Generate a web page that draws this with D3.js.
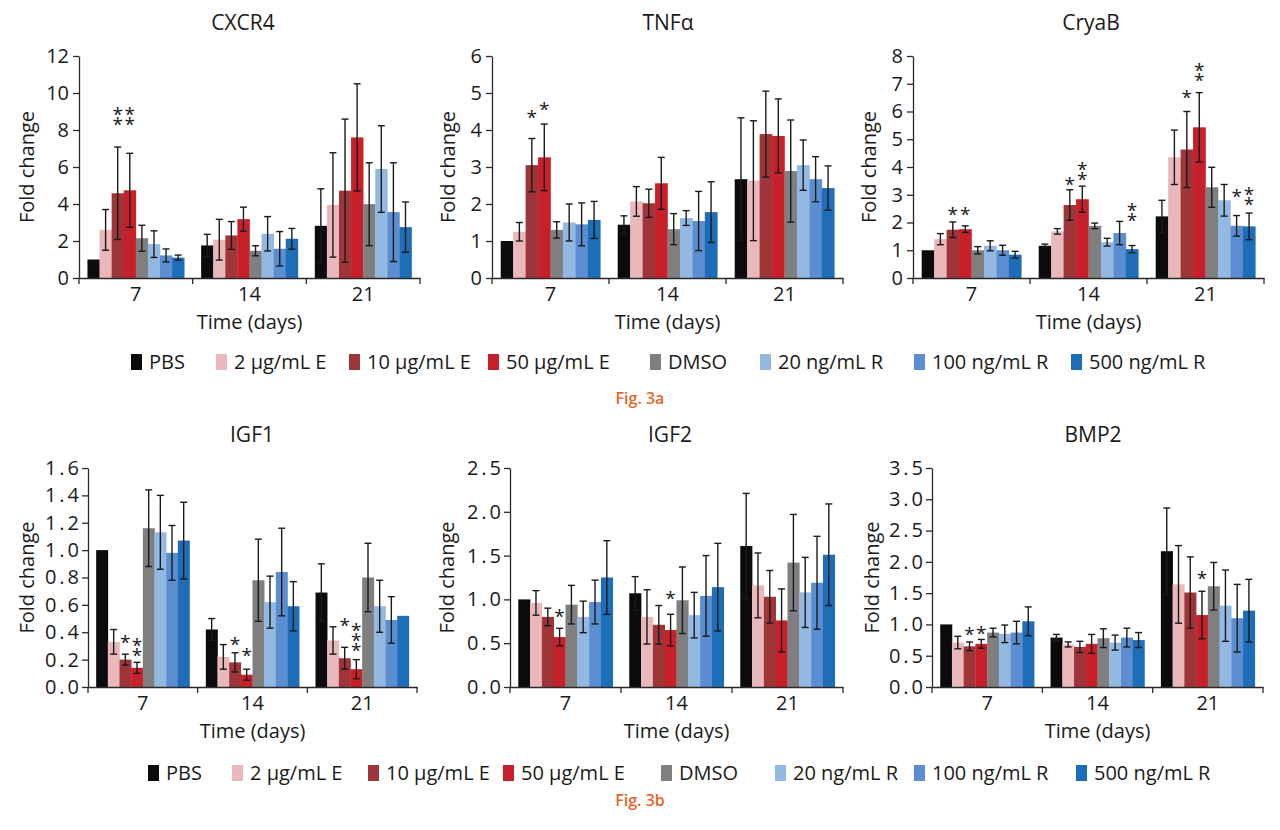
<!DOCTYPE html>
<html><head><meta charset="utf-8">
<script src="https://cdn.jsdelivr.net/npm/d3@7/dist/d3.min.js"></script>
<style>
body{margin:0;background:#fff;}
svg text{font-family:"Open Sans","Noto Sans",sans-serif;fill:#1a1a1a;}
</style></head><body>
<svg id="chart" width="1280" height="830"></svg>
<script>
// ---------------- DATA ----------------
const days = ["7", "14", "21"];
const series = ["PBS", "2 µg/mL E", "10 µg/mL E", "50 µg/mL E", "DMSO", "20 ng/mL R", "100 ng/mL R", "500 ng/mL R"];
const seriesColors = ["#0b0b0d", "#e8b8bb", "#9e3539", "#c8202a", "#7f7f7f", "#93b9e3", "#5b8ed0", "#1d6db8"];

// rows = days (7, 14, 21), columns = series
const cxcr4Mean = [[1.0, 2.6, 4.58, 4.74, 2.15, 1.83, 1.22, 1.1],
                   [1.76, 2.07, 2.3, 3.18, 1.47, 2.39, 1.58, 2.12],
                   [2.82, 3.95, 4.72, 7.6, 3.99, 5.89, 3.56, 2.75]];
const cxcr4Err  = [[0, 1.1, 2.5, 2.0, 0.7, 0.72, 0.35, 0.14],
                   [0.6, 1.1, 0.75, 0.65, 0.27, 0.93, 0.93, 0.56],
                   [2.0, 2.82, 3.87, 2.9, 2.24, 2.34, 2.67, 1.36]];
const tnfMean   = [[1.0, 1.25, 3.05, 3.26, 1.3, 1.5, 1.45, 1.57],
                   [1.44, 2.07, 2.02, 2.56, 1.32, 1.62, 1.54, 1.78],
                   [2.67, 2.63, 3.89, 3.84, 2.89, 3.05, 2.67, 2.43]];
const tnfErr    = [[0, 0.25, 0.72, 0.9, 0.22, 0.5, 0.58, 0.5],
                   [0.24, 0.4, 0.38, 0.7, 0.42, 0.2, 0.8, 0.82],
                   [1.66, 1.62, 1.16, 1.0, 1.38, 0.68, 0.61, 0.6]];
const cryabMean = [[1.0, 1.4, 1.74, 1.76, 1.0, 1.16, 1.0, 0.84],
                   [1.16, 1.68, 2.63, 2.84, 1.88, 1.29, 1.62, 1.04],
                   [2.22, 4.35, 4.63, 5.43, 3.27, 2.8, 1.88, 1.86]];
const cryabErr  = [[0, 0.2, 0.28, 0.12, 0.13, 0.18, 0.18, 0.12],
                   [0.06, 0.1, 0.55, 0.47, 0.1, 0.14, 0.42, 0.13],
                   [0.58, 0.98, 1.37, 1.25, 0.72, 0.57, 0.37, 0.48]];
const igf1Mean  = [[1.0, 0.33, 0.2, 0.14, 1.16, 1.13, 0.98, 1.07],
                   [0.42, 0.22, 0.18, 0.09, 0.78, 0.62, 0.84, 0.59],
                   [0.69, 0.34, 0.21, 0.13, 0.8, 0.59, 0.49, 0.52]];
const igf1Err   = [[0, 0.09, 0.04, 0.04, 0.28, 0.27, 0.2, 0.28],
                   [0.08, 0.09, 0.07, 0.04, 0.3, 0.19, 0.32, 0.18],
                   [0.21, 0.1, 0.08, 0.07, 0.25, 0.19, 0.17, 0]];
const igf2Mean  = [[1.0, 0.96, 0.8, 0.57, 0.94, 0.8, 0.97, 1.25],
                   [1.07, 0.8, 0.71, 0.65, 0.99, 0.82, 1.04, 1.14],
                   [1.61, 1.16, 1.03, 0.76, 1.42, 1.08, 1.19, 1.51]];
const igf2Err   = [[0, 0.14, 0.1, 0.1, 0.22, 0.18, 0.25, 0.42],
                   [0.19, 0.31, 0.22, 0.18, 0.38, 0.26, 0.46, 0.5],
                   [0.6, 0.37, 0.3, 0.36, 0.55, 0.4, 0.53, 0.58]];
const bmp2Mean  = [[1.0, 0.71, 0.65, 0.69, 0.87, 0.85, 0.87, 1.05],
                   [0.79, 0.68, 0.64, 0.69, 0.78, 0.71, 0.79, 0.75],
                   [2.17, 1.64, 1.51, 1.15, 1.61, 1.3, 1.1, 1.22]];
const bmp2Err   = [[0, 0.1, 0.07, 0.07, 0.07, 0.14, 0.18, 0.23],
                   [0.05, 0.04, 0.09, 0.15, 0.15, 0.12, 0.15, 0.12],
                   [0.69, 0.62, 0.57, 0.38, 0.38, 0.57, 0.54, 0.5]];

// significance marks: day, series index, number of asterisks, level (data units) of lowest asterisk
const cxcr4Stars = [{day: "7", s: 2, n: 2, level: 8.43}, {day: "7", s: 3, n: 2, level: 8.43}];
const tnfStars   = [{day: "7", s: 2, n: 1, level: 4.41}, {day: "7", s: 3, n: 1, level: 4.62}];
const cryabStars = [{day: "7", s: 2, n: 1, level: 2.38}, {day: "7", s: 3, n: 1, level: 2.38},
                    {day: "14", s: 2, n: 1, level: 3.46}, {day: "14", s: 3, n: 2, level: 3.64},
                    {day: "14", s: 7, n: 2, level: 2.16},
                    {day: "21", s: 2, n: 1, level: 6.59}, {day: "21", s: 3, n: 2, level: 7.21},
                    {day: "21", s: 6, n: 1, level: 3.03}, {day: "21", s: 7, n: 2, level: 2.74}];
const igf1Stars  = [{day: "7", s: 2, n: 1, level: 0.343}, {day: "7", s: 3, n: 2, level: 0.248},
                    {day: "14", s: 2, n: 1, level: 0.329}, {day: "14", s: 3, n: 1, level: 0.248},
                    {day: "21", s: 2, n: 1, level: 0.467}, {day: "21", s: 3, n: 3, level: 0.285}];
const igf2Stars  = [{day: "7", s: 3, n: 1, level: 0.833}, {day: "14", s: 3, n: 1, level: 1.04}];
const bmp2Stars  = [{day: "7", s: 2, n: 1, level: 0.88}, {day: "7", s: 3, n: 1, level: 0.895},
                    {day: "21", s: 3, n: 1, level: 1.77}];

const cxcr4Ticks = [0, 2, 4, 6, 8, 10, 12];
const tnfTicks   = [0, 1, 2, 3, 4, 5, 6];
const cryabTicks = [0, 1, 2, 3, 4, 5, 6, 7, 8];
const igf1Ticks  = [0, 0.2, 0.4, 0.6, 0.8, 1.0, 1.2, 1.4, 1.6];
const igf2Ticks  = [0, 0.5, 1.0, 1.5, 2.0, 2.5];
const bmp2Ticks  = [0, 0.5, 1.0, 1.5, 2.0, 2.5, 3.0, 3.5];

const yLabel = "Fold change";
const xLabel = "Time (days)";
const figLabels = ["Fig. 3a", "Fig. 3b"];

// ---------------- LAYOUT ----------------
const svg = d3.select("#chart");
const upper = {top: 56, bottom: 278};
const lower = {top: 468, bottom: 687};

const panels = [
  {title: "CXCR4", mean: cxcr4Mean, err: cxcr4Err, stars: cxcr4Stars, ticks: cxcr4Ticks, fmt: d3.format("d"),
   x0: 79, x1: 420, v: upper, ylx: 26, tx: 243, dec: false},
  {title: "TNFα", mean: tnfMean, err: tnfErr, stars: tnfStars, ticks: tnfTicks, fmt: d3.format("d"),
   x0: 492, x1: 843, v: upper, ylx: 447, tx: 668, dec: false},
  {title: "CryaB", mean: cryabMean, err: cryabErr, stars: cryabStars, ticks: cryabTicks, fmt: d3.format("d"),
   x0: 913, x1: 1264, v: upper, ylx: 868, tx: 1091, dec: false},
  {title: "IGF1", mean: igf1Mean, err: igf1Err, stars: igf1Stars, ticks: igf1Ticks, fmt: d3.format(".1f"),
   x0: 88, x1: 417, v: lower, ylx: 26, tx: 252, dec: true},
  {title: "IGF2", mean: igf2Mean, err: igf2Err, stars: igf2Stars, ticks: igf2Ticks, fmt: d3.format(".1f"),
   x0: 510, x1: 843, v: lower, ylx: 446, tx: 670, dec: true},
  {title: "BMP2", mean: bmp2Mean, err: bmp2Err, stars: bmp2Stars, ticks: bmp2Ticks, fmt: d3.format(".1f"),
   x0: 932, x1: 1263, v: lower, ylx: 871, tx: 1093, dec: true}
];

const axisColor = "#2a2a2a";

panels.forEach(p => {
  const g = svg.append("g");
  const xg = d3.scaleBand().domain(days).range([p.x0, p.x1]).padding(0);
  const xs = d3.scaleBand().domain(d3.range(series.length)).range([0, xg.bandwidth()])
               .paddingInner(0).paddingOuter(0.7);
  const y = d3.scaleLinear().domain([0, d3.max(p.ticks)]).range([p.v.bottom, p.v.top]);

  // bars
  days.forEach((d, di) => {
    const gg = g.append("g").attr("transform", `translate(${xg(d)},0)`);
    gg.selectAll("rect").data(p.mean[di]).join("rect")
      .attr("x", (v, i) => xs(i))
      .attr("width", xs.bandwidth() + 0.3)
      .attr("y", v => y(v))
      .attr("height", v => y(0) - y(v))
      .attr("fill", (v, i) => seriesColors[i]);
    // error bars
    const eb = gg.selectAll("g.eb").data(p.mean[di].map((v, i) => ({v, e: p.err[di][i], i})).filter(o => o.e > 0))
      .join("g").attr("class", "eb").attr("stroke", "#1a1a1a").attr("stroke-width", 1.4);
    const cxOf = o => xs(o.i) + xs.bandwidth() / 2;
    eb.append("line")
      .attr("x1", cxOf).attr("x2", cxOf)
      .attr("y1", o => y(Math.max(0, o.v - o.e))).attr("y2", o => y(o.v + o.e));
    eb.append("line")
      .attr("x1", o => cxOf(o) - 3.5).attr("x2", o => cxOf(o) + 3.5)
      .attr("y1", o => y(o.v + o.e)).attr("y2", o => y(o.v + o.e));
    eb.filter(o => o.v - o.e > 0).append("line")
      .attr("x1", o => cxOf(o) - 3.5).attr("x2", o => cxOf(o) + 3.5)
      .attr("y1", o => y(o.v - o.e)).attr("y2", o => y(o.v - o.e));

    // significance asterisks for this day: one text element per day group
    const dayStars = p.stars.filter(st => st.day === d);
    if (dayStars.length) {
      const t = g.append("text").attr("text-anchor", "middle").style("font-size", "19px");
      dayStars.forEach(st => {
        const cx = xg(d) + xs(st.s) + xs.bandwidth() / 2;
        for (let k = 0; k < st.n; k++) {
          t.append("tspan").attr("x", cx).attr("y", y(st.level) - k * 10 + 9).text("*");
        }
      });
    }
  });

  // y axis
  const ya = g.append("g").attr("transform", `translate(${p.x0},0)`)
    .call(d3.axisLeft(y).tickValues(p.ticks).tickFormat(p.fmt).tickSize(6).tickSizeOuter(0)
      .tickPadding(p.dec ? 0 : 4));
  ya.selectAll("path,line").attr("stroke", axisColor).attr("stroke-width", 1.3);
  ya.selectAll("text").style("font-size", "20px").attr("fill", "#1a1a1a")
    .style("letter-spacing", p.dec ? "3px" : "0px");

  // x axis
  const xa = g.append("g").attr("transform", `translate(0,${p.v.bottom})`)
    .call(d3.axisBottom(xg).tickSize(0).tickPadding(9));
  xa.select("path").attr("stroke", axisColor).attr("stroke-width", 1.3);
  xa.selectAll("text").style("font-size", "20px").attr("fill", "#1a1a1a");
  const bounds = days.map(d => xg(d)).concat([xg(days[days.length - 1]) + xg.bandwidth()]);
  xa.selectAll("line.sep").data(bounds).join("line").attr("class", "sep")
    .attr("x1", b => b).attr("x2", b => b).attr("y1", 0).attr("y2", 6)
    .attr("stroke", axisColor).attr("stroke-width", 1.3);

  // labels
  g.append("text").attr("x", p.tx).attr("y", p.v.top - 26)
    .attr("text-anchor", "middle").style("font-size", "21px").text(p.title);
  g.append("text").attr("x", (p.x0 + p.x1) / 2).attr("y", p.v.bottom + 51)
    .attr("text-anchor", "middle").style("font-size", "20px").text(xLabel);
  g.append("text").attr("transform", `translate(${p.ylx},${(p.v.top + p.v.bottom) / 2}) rotate(-90)`)
    .attr("text-anchor", "middle").attr("dominant-baseline", "central").style("font-size", "20px").text(yLabel);
});

// legends
const legendRows = [
  {y: 369, xs: [131, 216, 349, 488, 650, 760, 914, 1071]},
  {y: 780, xs: [148, 232, 368, 503, 661, 775, 914, 1076]}
];
legendRows.forEach(row => {
  const lg = svg.append("g");
  series.forEach((s, i) => {
    lg.append("rect").attr("x", row.xs[i]).attr("y", row.y - 15).attr("width", 11).attr("height", 16)
      .attr("fill", seriesColors[i]);
    lg.append("text").attr("x", row.xs[i] + 18).attr("y", row.y).style("font-size", "20px").text(s);
  });
});

// figure labels
[[404, figLabels[0]], [806, figLabels[1]]].forEach(([yy, t]) => {
  svg.append("text").attr("x", 640).attr("y", yy).attr("text-anchor", "middle")
    .style("font-size", "16px").style("font-weight", "600").style("fill", "#e8642c").text(t);
});
</script>
</body></html>
